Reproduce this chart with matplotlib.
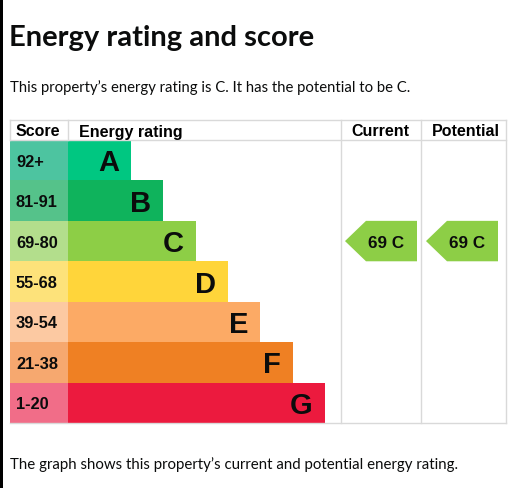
import matplotlib.pyplot as plt
from matplotlib.patches import Polygon, Rectangle

# EPC bands, top (best) to bottom
bands = ['A', 'B', 'C', 'D', 'E', 'F', 'G']
score_ranges = ['92+', '81-91', '69-80', '55-68', '39-54', '21-38', '1-20']
bar_colors = ['#00c781', '#0fb35c', '#8dce46', '#ffd53a', '#fcaa65', '#ef8023', '#ec1a3e']
score_colors = ['#4dc4a0', '#55c28a', '#b3de8c', '#fde27a', '#fcc9a2', '#f6a86f', '#f16d88']

current_score = 69
current_band = 'C'
potential_score = 69
potential_band = 'C'

title = 'Energy rating and score'
summary = "This property\u2019s energy rating is C. It has the potential to be C."
footer = "The graph shows this property\u2019s current and potential energy rating."

W, H = 514, 489
fig = plt.figure(figsize=(W / 100, H / 100), dpi=100)
ax = fig.add_axes([0, 0, 1, 1])
ax.set_xlim(0, W)
ax.set_ylim(H, 0)
ax.axis('off')

gds = ['Lato', 'DejaVu Sans']
arial = ['Liberation Sans', 'DejaVu Sans']
grid = '#d9d9d9'

# left black edge of the screenshot
ax.add_patch(Rectangle((0, 0), 2.5, H, color='black', lw=0))

ax.text(9, 46, title, fontsize=21, fontweight='bold', family=gds, color='#0b0c0c', va='baseline')
ax.text(10, 92, summary, fontsize=10.75, family=gds, color='#0b0c0c', va='baseline')
ax.text(10, 469, footer, fontsize=10.8, family=gds, color='#0b0c0c', va='baseline')

# table layout
left, score_w = 10, 58
col_cur, col_pot, right = 341, 421, 506
top, head_h, row_h = 121, 20, 40.43
y0 = top + head_h
rows = [y0 + row_h * (i + 0.5) for i in range(len(bands))]
bottom = y0 + row_h * len(bands)

# grid lines
ax.plot([left, right], [top, top], color=grid, lw=1)
ax.plot([left, right], [y0, y0], color=grid, lw=1)
ax.plot([left, right], [bottom, bottom], color=grid, lw=1)
ax.plot([left, left], [top, y0], color=grid, lw=1)
ax.plot([left + score_w, left + score_w], [top, y0], color=grid, lw=1)
for x in (col_cur, col_pot, right):
    ax.plot([x, x], [top, bottom], color=grid, lw=1)

hy = top + head_h / 2 + 1
ax.text(16, hy, 'Score', fontsize=11.5, fontweight='bold', family=arial, va='center')
ax.text(79, hy, 'Energy rating', fontsize=11.5, fontweight='bold', family=arial, va='center')
ax.text((col_cur + col_pot) / 2 - 1, hy, 'Current', fontsize=11.5, fontweight='bold', family=arial, va='center', ha='center')
ax.text((col_pot + right) / 2 + 2, hy, 'Potential', fontsize=11.5, fontweight='bold', family=arial, va='center', ha='center')

# score cells and rating bars
bar_left = left + score_w
widths = [63 + 32.3 * i for i in range(len(bands))]
ax.barh(rows, [score_w] * len(bands), left=left, height=row_h, color=score_colors, lw=0)
ax.barh(rows, widths, left=bar_left, height=row_h, color=bar_colors, lw=0)
for y, rng, band, w in zip(rows, score_ranges, bands, widths):
    ax.text(16, y + 1, rng, fontsize=11.8, fontweight='bold', family=arial, va='center', color='#0b0c0c')
    ax.text(bar_left + w - 12, y + 2, band, fontsize=21, fontweight='bold', family=arial,
            va='center', ha='right', color='#0b0c0c')


def arrow(x_left, x_right, band, score):
    i = bands.index(band)
    yc = rows[i]
    ht = row_h / 2
    tip = 21
    pts = [(x_left, yc), (x_left + tip, yc - ht), (x_right, yc - ht),
           (x_right, yc + ht), (x_left + tip, yc + ht)]
    ax.add_patch(Polygon(pts, closed=True, color=bar_colors[i], lw=0))
    ax.text((x_left + tip + x_right) / 2 - 5.5, yc + 1, f'{score} {band}', fontsize=12.3,
            fontweight='bold', family=arial, va='center', ha='center', color='#0b0c0c')


arrow(col_cur + 4, col_pot - 4, current_band, current_score)
arrow(col_pot + 5, right - 8, potential_band, potential_score)

fig.savefig('out.png', dpi=100)
